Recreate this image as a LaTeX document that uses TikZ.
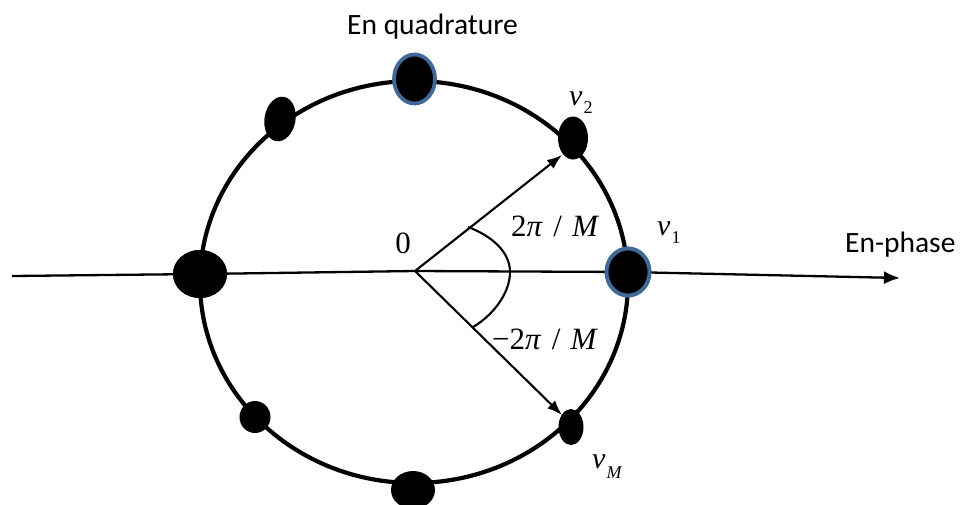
\documentclass[tikz,border=0pt]{standalone}
\usepackage{fontspec}
\setmainfont{Liberation Serif}
\newfontfamily\labelsans{Carlito}
\usetikzlibrary{shapes.geometric,arrows.meta}
\definecolor{dotblue}{RGB}{65,105,152}
\begin{document}
\begin{tikzpicture}[x=1pt,y=-1pt,
  dot/.style={ellipse,fill=black,inner sep=0pt,draw=none},
  bdot/.style={ellipse,fill=black,inner sep=0pt,draw=dotblue,line width=3.8pt},
  axisline/.style={line width=2.3pt},
  vec/.style={line width=2.1pt,-{Latex[length=15pt,width=11pt]}},
  sanslabel/.style={font=\labelsans\fontsize{29.5}{34}\selectfont,inner sep=0pt},
  mathlabel/.style={font=\fontsize{31}{36}\selectfont,inner sep=0pt},
  vlabel/.style={font=\fontsize{30}{34}\selectfont,inner sep=0pt},
  sublabel/.style={font=\fontsize{18}{20}\selectfont}
]
\useasboundingbox (0,0) rectangle (965,504);
% main circle
\draw[line width=4.2pt] (414,282) ellipse [x radius=214, y radius=201];
% coordinates
\coordinate (O) at (415,271);
\coordinate (L) at (12,276);
\coordinate (R) at (900,278);
\coordinate (tu) at (562,155);
\coordinate (td) at (562,415);
\coordinate (a1) at (468,227);
\coordinate (a2) at (510,272);
\coordinate (a3) at (473,327);
% dots
\node[dot,minimum width=54pt,minimum height=48pt] (dl) at (200,274) {};
\node[bdot,minimum width=43pt,minimum height=47pt] (d1) at (628,272) {};
% axis
\draw[axisline] (L) -- (dl.center);
\draw[axisline] (dl.center) -- (O) -- (d1.center);
\draw[axisline,-{Latex[length=16pt,width=13pt]}] (d1.center) -- (R);
% vectors
\draw[vec] (O) -- (tu);
\draw[vec] (O) -- (td);
% angle arc
\draw[line width=2.1pt] (a1) .. controls (492,236) and (510,252) .. (a2)
  .. controls (510,294) and (492,316) .. (a3);
% dots on top
\node[dot,minimum width=54pt,minimum height=48pt] at (200,274) {};
\node[bdot,minimum width=43pt,minimum height=47pt] at (628,272) {};
\node[bdot,minimum width=41pt,minimum height=49pt] (dq) at (414.5,79) {};
\node[dot,minimum width=30pt,minimum height=43pt] (d2) at (573,138) {};
\node[dot,minimum width=25pt,minimum height=36pt] (dM) at (571,427) {};
\node[dot,minimum width=31pt,minimum height=32pt] (dbl) at (255,417) {};
\node[dot,minimum width=31pt,minimum height=45pt,rotate=-10] (dtl) at (280,119) {};
\node[dot,minimum width=44pt,minimum height=38pt] (db) at (413,490) {};
% labels
\node[sanslabel,anchor=base west] (tq) at (347,34) {En quadrature};
\node[sanslabel,anchor=base west] (tp) at (845,252) {En-phase};
\node[mathlabel,anchor=base] (t0) at (403,253) {0};
\node[mathlabel,anchor=base west] (tup) at (511,236) {2\textit{π}\,\,/\,\,\textit{M}};
\node[mathlabel,anchor=base west] (tdn) at (492,349) {−2\textit{π}\,\,/\,\,\textit{M}};
\node[vlabel,anchor=base west] (lv2) at (569,105) {\textit{v}\kern1pt\raisebox{-8pt}{\sffamily\rmfamily\fontsize{18}{20}\selectfont 2}};
\node[vlabel,anchor=base west] (lv1) at (657,235) {\textit{v}\kern1pt\raisebox{-8pt}{\fontsize{18}{20}\selectfont 1}};
\node[vlabel,anchor=base west] (lvM) at (592,468) {\textit{v}\kern1pt\raisebox{-10pt}{\fontsize{18}{20}\selectfont\textit{M}}};
\end{tikzpicture}
\end{document}
